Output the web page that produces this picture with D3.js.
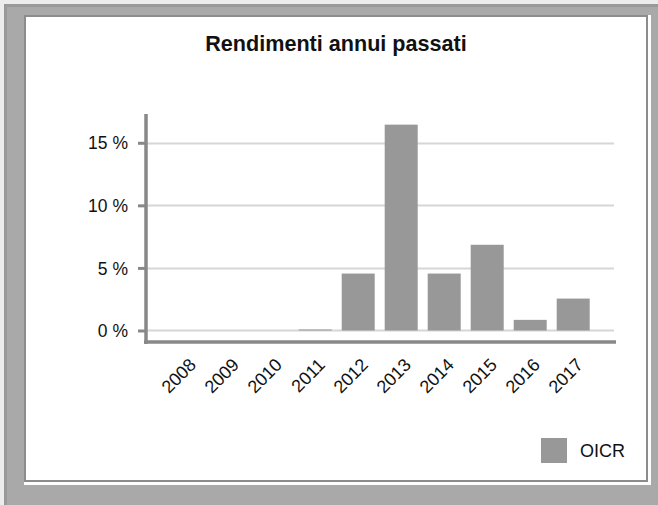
<!DOCTYPE html>
<html>
<head>
<meta charset="utf-8">
<script src="https://cdn.jsdelivr.net/npm/d3@7"></script>
<style>
  html, body { margin: 0; padding: 0; background: #ececec; }
  svg { display: block; }
  text { font-family: "Liberation Sans", Arial, sans-serif; fill: #111; }
</style>
</head>
<body>
<svg id="chart" width="658" height="505"></svg>
<script>
const years = ["2008","2009","2010","2011","2012","2013","2014","2015","2016","2017"];
const oicr = [0, 0, 0, 0.08, 4.55, 16.45, 4.55, 6.85, 0.85, 2.55];
const yTicks = [0, 5, 10, 15];
const seriesName = "OICR";
const title = "Rendimenti annui passati";

const svg = d3.select("#chart");

// frame
svg.append("rect").attr("x", 4).attr("y", 4).attr("width", 654).attr("height", 501).attr("fill", "#a9a9a9");
svg.append("rect").attr("x", 4).attr("y", 4).attr("width", 654).attr("height", 3).attr("fill", "#999");
svg.append("rect").attr("x", 4).attr("y", 4).attr("width", 3).attr("height", 501).attr("fill", "#999");
svg.append("rect").attr("x", 24).attr("y", 15).attr("width", 627).attr("height", 470).attr("fill", "#fdfdfd");
svg.append("rect").attr("x", 24).attr("y", 15).attr("width", 624).attr("height", 467).attr("fill", "#8c8c8c");
svg.append("rect").attr("x", 26).attr("y", 17).attr("width", 620).attr("height", 463).attr("fill", "#fff");

const y = d3.scaleLinear().domain([-1, 17.3]).range([343, 114]);
const x = d3.scaleBand().domain(years).range([164.7, 594.7]).paddingInner(10/43).paddingOuter(5/43);

// title
svg.append("text").attr("x", 336).attr("y", 51).attr("text-anchor", "middle")
  .style("font-size", "21.6px").style("font-weight", "bold").text(title);

// gridlines
svg.append("g").selectAll("line").data(yTicks).join("line")
  .attr("x1", 147).attr("x2", 614)
  .attr("y1", d => Math.round(y(d)) + 0.5).attr("y2", d => Math.round(y(d)) + 0.5)
  .attr("stroke", "#d6d6d6").attr("stroke-width", 2);

// y axis
const yAxis = d3.axisLeft(y).tickValues(yTicks).tickSize(8).tickPadding(10).tickFormat(d => d + " %");
const gy = svg.append("g").attr("transform", "translate(146,0)").call(yAxis);
gy.select(".domain").remove();
gy.selectAll(".tick line").attr("stroke", "#888").attr("stroke-width", 3);
gy.selectAll(".tick text").style("font-size", "17.5px").attr("fill", "#111").attr("dy", "0.35em");

// bars
svg.append("g").selectAll("rect").data(years).join("rect")
  .attr("x", d => x(d))
  .attr("width", x.bandwidth())
  .attr("y", (d, i) => y(Math.max(0, oicr[i])))
  .attr("height", (d, i) => Math.abs(y(oicr[i]) - y(0)))
  .attr("fill", "#989898");

// axis lines
svg.append("line").attr("x1", 146).attr("x2", 146).attr("y1", 114).attr("y2", 344)
  .attr("stroke", "#888").attr("stroke-width", 3.5);
svg.append("line").attr("x1", 144).attr("x2", 616).attr("y1", 342).attr("y2", 342)
  .attr("stroke", "#888").attr("stroke-width", 3.5);

// x labels
svg.append("g").selectAll("text").data(years).join("text")
  .attr("transform", d => `translate(${x(d) + x.bandwidth() / 2 + 11},366) rotate(-45)`)
  .attr("text-anchor", "end")
  .style("font-size", "18px")
  .text(d => d);

// legend
svg.append("rect").attr("x", 541).attr("y", 438).attr("width", 26).attr("height", 25).attr("fill", "#989898");
svg.append("text").attr("x", 580).attr("y", 457).style("font-size", "18px").text(seriesName);
</script>
</body>
</html>
